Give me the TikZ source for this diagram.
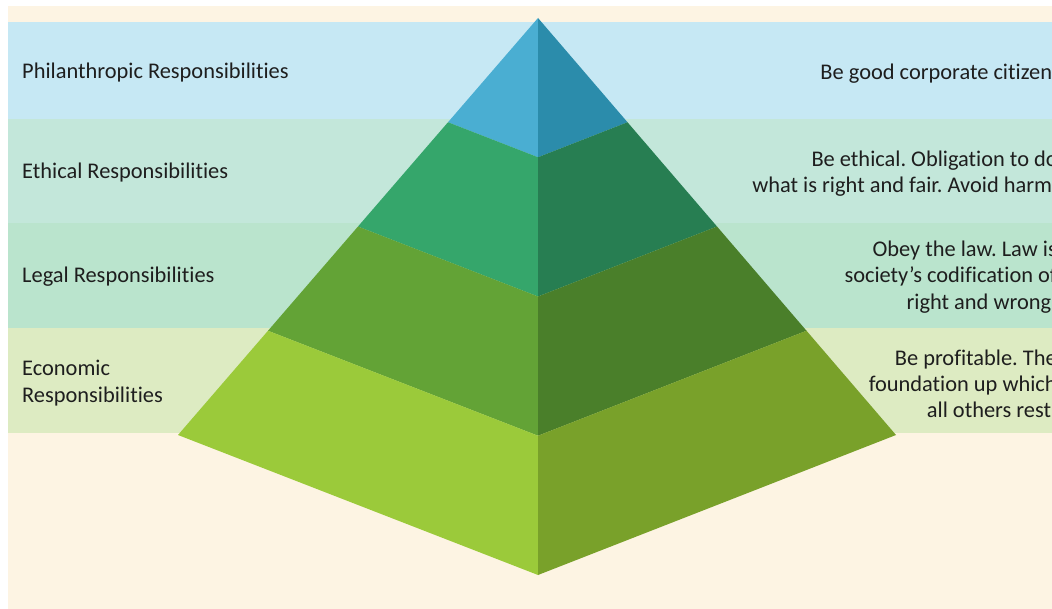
\documentclass[tikz,border=0pt]{standalone}
\usepackage{fontspec}
\setmainfont{Carlito}[Ligatures={NoCommon}]
\usetikzlibrary{calc}
\definecolor{cream}{HTML}{FDF4E3}
\definecolor{bandphil}{HTML}{C6E8F4}
\definecolor{bandeth}{HTML}{C3E7DA}
\definecolor{bandleg}{HTML}{BAE4CD}
\definecolor{bandeco}{HTML}{DDEBC2}
\definecolor{philL}{HTML}{4AAED2}
\definecolor{philR}{HTML}{2B8CAB}
\definecolor{ethL}{HTML}{35A66B}
\definecolor{ethR}{HTML}{277E52}
\definecolor{legL}{HTML}{63A336}
\definecolor{legR}{HTML}{4A7F2A}
\definecolor{ecoL}{HTML}{9BCA3A}
\definecolor{ecoR}{HTML}{79A12A}
\definecolor{txt}{HTML}{1E1E1E}
\frenchspacing
\begin{document}
\begin{tikzpicture}[x=1pt,y=-1pt,
  lefttext/.style={anchor=west,inner sep=0pt,align=left,text=txt,font=\fontsize{22.4}{26.2}\selectfont},
  righttext/.style={anchor=east,inner sep=0pt,align=right,text=txt,font=\fontsize{22.4}{26.2}\selectfont}]
\useasboundingbox (0,0) rectangle (1052,609);
\clip (0,0) rectangle (1052,609);
% page and backdrop
\fill[white] (0,0) rectangle (1052,609);
\fill[cream] (8,6) rectangle (1052,609);
% horizontal bands, one per level
\fill[bandphil] (8,22) rectangle (1052,119);
\fill[bandeth]  (8,119) rectangle (1052,223);
\fill[bandleg]  (8,223) rectangle (1052,328);
\fill[bandeco]  (8,328) rectangle (1052,433);
% pyramid frame: apex, front bottom, left and right corners
\coordinate (A) at (538,18);
\coordinate (B) at (538,575);
\coordinate (L) at (178,435);
\coordinate (R) at (896,435);
\foreach \t/\n in {0.25/1,0.5/2,0.75/3} {
  \coordinate (L\n) at ($(A)!\t!(L)$);
  \coordinate (C\n) at ($(A)!\t!(B)$);
  \coordinate (R\n) at ($(A)!\t!(R)$);
}
% philanthropic tier
\fill[philL] (A) -- (L1) -- (C1) -- cycle;
\fill[philR] (A) -- (C1) -- (R1) -- cycle;
% ethical tier
\fill[ethL] (L1) -- (C1) -- (C2) -- (L2) -- cycle;
\fill[ethR] (C1) -- (R1) -- (R2) -- (C2) -- cycle;
% legal tier
\fill[legL] (L2) -- (C2) -- (C3) -- (L3) -- cycle;
\fill[legR] (C2) -- (R2) -- (R3) -- (C3) -- cycle;
% economic tier
\fill[ecoL] (L3) -- (C3) -- (B) -- (L) -- cycle;
\fill[ecoR] (C3) -- (R3) -- (R) -- (B) -- cycle;
% labels on the left
\node[lefttext] (phil) at (22,73) {Philanthropic Responsibilities};
\node[lefttext] (eth) at (22,173) {Ethical Responsibilities};
\node[lefttext] (leg) at (22,277) {Legal Responsibilities};
\node[lefttext] (eco) at (22,383) {Economic\\Responsibilities};
% descriptions on the right
\node[righttext] (philD) at (1061,74) {Be good corporate citizens};
\node[righttext] (ethD) at (1058,174) {Be ethical. Obligation to do\\what is right and fair. Avoid harm.};
\node[righttext] (legD) at (1057,277) {Obey the law. Law is\\society’s codification of\\right and wrong.};
\node[righttext] (ecoD) at (1057,384) {Be profitable. The\\foundation up which\\all others rest.};
\end{tikzpicture}
\end{document}
